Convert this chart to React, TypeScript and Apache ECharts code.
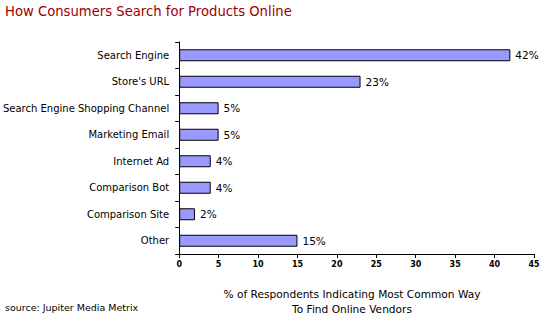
import React, { useEffect, useRef } from "react";
import * as echarts from "echarts";

const categories = [
  "Search Engine",
  "Store's URL",
  "Search Engine Shopping Channel",
  "Marketing Email",
  "Internet Ad",
  "Comparison Bot",
  "Comparison Site",
  "Other",
];
const values = [42, 23, 5, 5, 4, 4, 2, 15];
const xTicks = { min: 0, max: 45, interval: 5 };
const titleText = "How Consumers Search for Products Online";
const sourceText = "source: Jupiter Media Metrix";
const axisTitleLines = ["% of Respondents Indicating Most Common Way", "To Find Online Vendors"];

const FONT = "DejaVu Sans";

export default function App() {
  const ref = useRef<HTMLDivElement>(null);
  useEffect(() => {
    if (!ref.current) return;
    const chart = echarts.init(ref.current, null, { renderer: "svg" });
    chart.setOption({
      animation: false,
      backgroundColor: "#ffffff",
      textStyle: { fontFamily: FONT },
      grid: { left: 177, right: 16, top: 42, bottom: 66, containLabel: false },
      xAxis: {
        type: "value",
        min: xTicks.min,
        max: xTicks.max,
        interval: xTicks.interval,
        splitLine: { show: false },
        axisLine: { show: true, lineStyle: { color: "#000", width: 1 } },
        axisTick: { show: true, length: 4, lineStyle: { color: "#000" } },
        axisLabel: { color: "#000", fontSize: 8, fontFamily: FONT, fontWeight: "bold", margin: 6 },
      },
      yAxis: {
        type: "category",
        data: categories,
        inverse: true,
        axisLine: { show: true, lineStyle: { color: "#000", width: 1 } },
        axisTick: { show: true, length: 4, lineStyle: { color: "#000" } },
        axisLabel: { color: "#000", fontSize: 10, fontFamily: FONT, margin: 10 },
      },
      series: [
        {
          type: "bar",
          data: values,
          barWidth: 12,
          itemStyle: { color: "#9999FF", borderColor: "#000", borderWidth: 1 },
          label: {
            show: true,
            position: "right",
            distance: 5,
            formatter: "{c}%",
            color: "#000",
            fontSize: 10.5,
            fontFamily: FONT,
          },
        },
      ],
      graphic: [
        {
          type: "text",
          left: 5,
          top: 5,
          style: { text: titleText, fill: "#A00000", font: `13.2px "${FONT}"` },
        },
        {
          type: "text",
          left: 5,
          top: 302,
          style: { text: sourceText, fill: "#000", font: `9.5px "${FONT}"` },
        },
        {
          type: "text",
          x: 352,
          y: 288,
          style: { text: axisTitleLines[0], fill: "#000", font: `10.6px "${FONT}"`, textAlign: "center" },
        },
        {
          type: "text",
          x: 352,
          y: 303,
          style: { text: axisTitleLines[1], fill: "#000", font: `10.6px "${FONT}"`, textAlign: "center" },
        },
      ],
    });
    return () => chart.dispose();
  }, []);
  return <div ref={ref} style={{ width: 550, height: 320, position: "absolute", left: 0, top: 0 }} />;
}
